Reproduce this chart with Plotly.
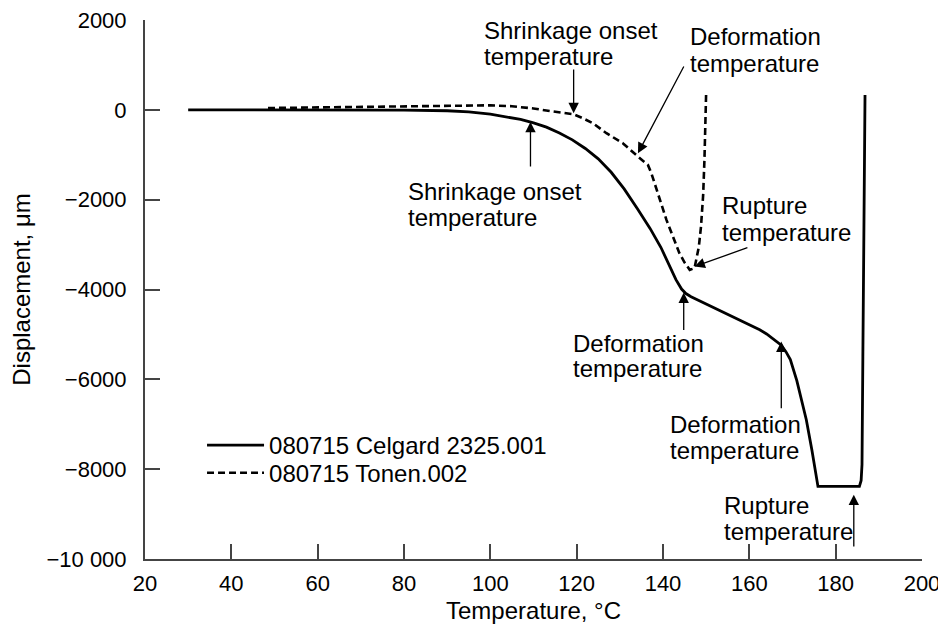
import plotly.graph_objects as go

# Celgard 2325 (solid) - temperature (degC) / displacement (um)
celgard_temp = [30, 60, 80, 90, 95, 100, 104, 107, 110, 113, 116, 119, 122, 125, 128, 131,
                134, 137, 139.5, 141.5, 143, 144.3, 145.3, 146.5, 148, 150, 154.6, 158.5,
                162.4, 164, 166, 167.4, 168.5, 169.5, 171, 172, 173.2, 174.5, 175.9, 180,
                185.5, 185.9, 186.1, 186.3, 186.8]
celgard_disp = [0, 0, -5, -20, -45, -95, -160, -215, -290, -385, -515, -668, -860, -1090,
                -1390, -1760, -2190, -2640, -3060, -3480, -3780, -3990, -4090, -4160, -4230,
                -4310, -4526, -4710, -4898, -4990, -5130, -5240, -5390, -5560, -6030, -6420,
                -6900, -7580, -8384, -8384, -8384, -8250, -7900, -5500, 330]

# Tonen (dashed)
tonen_temp = [48.5, 60, 75, 90, 100, 105, 110, 114, 117, 119.3, 121.5, 123.8, 126.9, 130.7,
              134.2, 136.5, 137.3, 139, 140.8, 143.8, 145, 146.2, 147.3, 148.3, 148.8, 149.3,
              149.6, 150]
tonen_disp = [40, 55, 75, 95, 100, 80, 30, -30, -70, -100, -190, -299, -521, -743,
              -1041, -1226, -1411, -1930, -2450, -3191, -3400, -3563, -3525, -3050, -2600,
              -1900, -1115, 405]

y_ticks = [-10000, -8000, -6000, -4000, -2000, 0, 2000]
y_tick_text = ['\u221210 000', '\u22128000', '\u22126000', '\u22124000', '\u22122000', '0', '2000']
x_ticks = [20, 40, 60, 80, 100, 120, 140, 160, 180, 200]

# label lines: (text, x, y) with x = left edge
labels = [
    ('Shrinkage onset', 98.0, 1762), ('temperature', 98.0, 1183),
    ('Deformation', 145.8, 1628), ('temperature', 145.8, 1041),
    ('Rupture', 153.3, -2132), ('temperature', 153.3, -2726),
    ('Shrinkage onset', 80.5, -1814), ('temperature', 80.5, -2408),
    ('Deformation', 118.6, -5211), ('temperature', 118.6, -5767),
    ('Deformation', 141.1, -7013), ('temperature', 141.1, -7583),
    ('Rupture', 153.6, -8807), ('temperature', 153.6, -9385),
]

# arrows: (tip x, tip y, tail x, tail y)
arrows = [
    (119.3, -76, 119.3, 932),
    (134.2, -966, 145.0, 999),
    (147.3, -3489, 159.9, -3058),
    (109.3, -270, 109.3, -1293),
    (144.8, -4067, 144.8, -4935),
    (167.4, -5158, 167.4, -6678),
    (184.2, -8569, 184.2, -9755),
]

FONT = 'Liberation Sans, Arial, sans-serif'

fig = go.Figure()

fig.add_trace(go.Scatter(
    x=celgard_temp, y=celgard_disp, mode='lines',
    name='080715 Celgard 2325.001', legend='legend',
    line=dict(color='black', width=2.8)
))

fig.add_trace(go.Scatter(
    x=tonen_temp, y=tonen_disp, mode='lines',
    name='080715 Tonen.002', legend='legend2',
    line=dict(color='black', width=2.6, dash='7px,4px')
))

for text, x, y in labels:
    fig.add_annotation(
        text=text, x=x, y=y, xref='x', yref='y',
        xanchor='left', yanchor='middle', showarrow=False,
        font=dict(size=24, color='black', family=FONT)
    )

for tx, ty, sx, sy in arrows:
    fig.add_annotation(
        text='', x=tx, y=ty, ax=sx, ay=sy, xref='x', yref='y',
        axref='x', ayref='y', showarrow=True,
        arrowhead=2, arrowsize=1.6, arrowwidth=1.3, arrowcolor='black',
        standoff=0, startstandoff=0
    )

# x axis title placed as an annotation so it sits just above the bottom edge
fig.add_annotation(
    text='Temperature, \u00b0C', x=0.5, y=0, xref='paper', yref='paper',
    xanchor='center', yanchor='middle', yshift=-51, showarrow=False,
    font=dict(size=24, color='black', family=FONT)
)

legend_style = dict(
    xanchor='left', yanchor='top', bgcolor='rgba(0,0,0,0)', borderwidth=0,
    font=dict(size=24, family=FONT), itemwidth=57
)

# page body has an 8px margin, so the figure is offset by 8px
fig.update_layout(
    width=938, height=616,
    plot_bgcolor='white', paper_bgcolor='white',
    font=dict(family=FONT, color='black', size=22),
    margin=dict(l=137, r=24, t=12, b=65),
    showlegend=True,
    legend=dict(x=0.0734, y=0.2523, **legend_style),
    legend2=dict(x=0.0734, y=0.2009, **legend_style),
    xaxis=dict(
        range=[20, 200], tickvals=x_ticks,
        ticks='inside', ticklen=15, tickwidth=1.5, tickcolor='#444',
        showline=True, linewidth=2, linecolor='#444',
        showgrid=False, zeroline=False, ticklabelstandoff=4,
        ticklabeloverflow='allow',
        tickfont=dict(size=22),
        automargin=False
    ),
    yaxis=dict(
        range=[-10000, 2000], tickvals=y_ticks, ticktext=y_tick_text,
        ticks='inside', ticklen=15, tickwidth=1.5, tickcolor='#444',
        showline=True, linewidth=2, linecolor='#444',
        showgrid=False, zeroline=False, ticklabelstandoff=12,
        ticklabeloverflow='allow',
        tickfont=dict(size=22),
        title=dict(text='Displacement, \u03bcm', font=dict(size=24), standoff=11),
        automargin=False
    ),
)

fig.write_html('out.html')
